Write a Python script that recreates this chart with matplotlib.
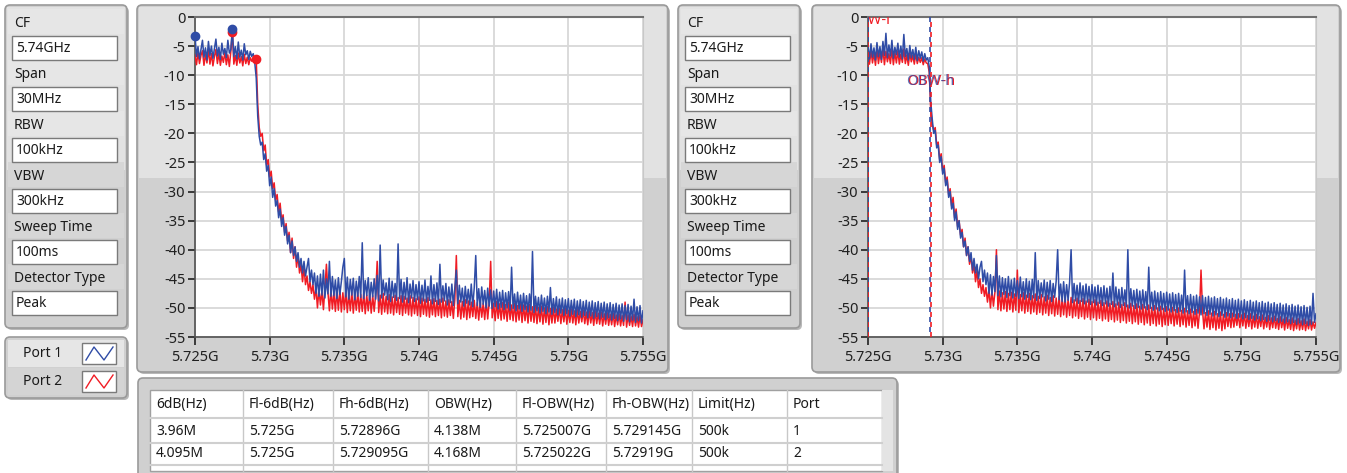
import numpy as np
import matplotlib
matplotlib.use("Agg")
import matplotlib.pyplot as plt
from matplotlib.patches import FancyBboxPatch, Rectangle
from matplotlib.transforms import IdentityTransform

# ---------------- data ----------------
settings_labels = ["CF", "Span", "RBW", "VBW", "Sweep Time", "Detector Type"]
settings_values = ["5.74GHz", "30MHz", "100kHz", "300kHz", "100ms", "Peak"]
legend_names = ["Port 1", "Port 2"]

x_ticks = [5.725, 5.73, 5.735, 5.74, 5.745, 5.75, 5.755]
x_tick_labels = ["5.725G", "5.73G", "5.735G", "5.74G", "5.745G", "5.75G", "5.755G"]
y_ticks = [0, -5, -10, -15, -20, -25, -30, -35, -40, -45, -50, -55]

f_start, f_stop = 5.725, 5.755   # sweep in GHz, 0.1 MHz step (301 points)

c1_port1 = [
    -3.2, -6.8, -5.1, -7.2, -5.6, -4.0, -6.9, -5.3, -7.4, -4.2,
    -6.6, -5.0, -7.1, -5.5, -3.8, -6.7, -5.2, -7.3, -4.5, -6.4,
    -5.4, -7.0, -4.0, -6.2, -5.6, -2.0, -6.8, -5.1, -7.2, -4.3,
    -6.9, -5.7, -7.4, -4.6, -6.5, -5.8, -7.3, -5.9, -6.8, -6.3,
    -7.8, -10.5, -17.0, -20.5, -22.0, -21.5, -24.5, -23.5, -26.5, -25.5,
    -29.0, -27.5, -31.0, -29.5, -32.5, -31.5, -34.5, -33.0, -36.0, -34.5,
    -37.5, -36.0, -39.0, -37.5, -40.5, -38.5, -41.0, -39.5, -42.0, -40.5,
    -43.0, -41.5, -44.0, -42.0, -44.5, -43.0, -41.5, -45.5, -43.5, -46.0,
    -44.0, -47.5, -44.5, -48.0, -44.2, -47.8, -43.5, -48.3, -45.0, -47.6,
    -42.0, -48.0, -44.6, -47.9, -45.2, -48.4, -44.8, -47.7, -45.5, -43.0,
    -41.5, -48.1, -44.7, -48.5, -45.1, -47.8, -44.9, -48.6, -45.4, -48.0,
    -44.6, -48.2, -38.8, -48.4, -45.3, -47.9, -44.8, -48.7, -45.6, -48.1,
    -45.0, -48.5, -44.4, -48.8, -39.2, -48.3, -45.2, -47.8, -45.7, -48.6,
    -44.9, -48.9, -45.4, -48.2, -45.8, -48.7, -39.0, -48.4, -45.1, -49.0,
    -45.6, -48.5, -44.8, -49.1, -45.9, -48.3, -45.3, -48.9, -46.0, -48.6,
    -45.5, -49.2, -46.1, -48.8, -45.2, -49.0, -46.3, -48.7, -44.5, -49.3,
    -46.0, -48.9, -45.7, -49.4, -42.5, -49.0, -46.2, -48.8, -45.8, -49.5,
    -46.4, -49.1, -45.9, -49.6, -46.5, -43.5, -49.3, -46.1, -49.0, -46.6,
    -49.7, -46.3, -49.2, -46.8, -49.5, -45.9, -49.8, -46.5, -41.0, -49.6,
    -46.7, -49.9, -46.4, -49.4, -47.0, -50.0, -46.6, -49.7, -46.9, -50.1,
    -47.1, -49.8, -46.8, -50.2, -47.3, -49.9, -47.0, -50.3, -47.4, -50.0,
    -47.2, -50.4, -43.0, -50.1, -47.6, -50.5, -47.3, -50.2, -47.8, -50.6,
    -47.5, -50.3, -47.9, -50.7, -47.6, -50.4, -40.3, -50.8, -48.0, -50.5,
    -48.2, -50.9, -47.8, -50.6, -48.3, -51.0, -48.0, -50.7, -46.5, -51.1,
    -48.4, -50.8, -48.1, -51.2, -48.5, -50.9, -48.3, -51.3, -48.6, -51.0,
    -48.4, -51.4, -48.7, -51.1, -48.5, -51.5, -48.8, -51.2, -48.6, -51.6,
    -48.9, -51.3, -48.7, -51.7, -49.0, -51.4, -48.8, -51.8, -49.1, -51.5,
    -48.9, -51.9, -49.2, -51.6, -49.0, -52.0, -49.3, -51.7, -49.1, -52.1,
    -49.4, -51.8, -49.2, -52.2, -49.5, -51.9, -49.3, -52.3, -49.6, -52.0,
    -49.4, -52.4, -49.7, -52.1, -48.5, -52.5, -49.8, -52.2, -49.6, -52.6,
    -50.5,
]
c1_port2 = [
    -6.5, -8.2, -6.1, -8.0, -6.6, -5.8, -8.3, -6.4, -7.9, -5.5,
    -8.1, -6.3, -8.4, -6.8, -5.6, -8.0, -6.2, -8.3, -6.7, -7.8,
    -6.0, -8.2, -6.5, -8.5, -5.9, -2.5, -8.1, -6.6, -8.3, -6.2,
    -7.9, -6.8, -8.4, -6.4, -8.0, -6.9, -8.2, -7.0, -7.6, -7.1,
    -7.6, -7.3, -15.0, -19.0, -20.5, -20.0, -23.0, -22.0, -25.5, -24.5,
    -27.5, -26.5, -29.5, -28.5, -31.5, -30.5, -33.5, -32.0, -35.0, -34.0,
    -37.0, -35.5, -38.5, -37.0, -40.5, -38.0, -41.5, -39.5, -43.0, -41.0,
    -44.0, -42.5, -45.5, -43.0, -46.0, -44.5, -47.0, -45.5, -47.5, -46.0,
    -48.5, -46.5, -50.0, -46.8, -49.5, -47.0, -50.3, -46.6, -42.5, -47.2,
    -50.5, -46.9, -50.2, -47.3, -50.6, -47.0, -50.4, -46.8, -50.7, -47.4,
    -50.3, -47.1, -50.8, -47.5, -50.5, -47.2, -50.9, -47.6, -50.4, -47.3,
    -50.7, -47.7, -50.6, -47.4, -51.0, -47.8, -50.5, -47.5, -50.9, -47.9,
    -50.6, -47.6, -42.0, -50.8, -47.8, -51.1, -47.5, -50.7, -48.0, -51.0,
    -47.7, -50.9, -48.1, -51.2, -47.8, -50.8, -48.2, -51.1, -47.9, -51.3,
    -48.0, -50.9, -48.3, -51.2, -47.9, -51.4, -48.2, -51.0, -48.4, -51.3,
    -48.1, -51.5, -48.3, -51.1, -48.5, -51.4, -48.2, -51.6, -48.6, -51.2,
    -48.4, -51.5, -48.7, -51.3, -48.5, -51.7, -48.3, -51.4, -48.8, -51.6,
    -48.6, -51.3, -48.9, -51.8, -48.5, -41.0, -51.5, -48.7, -51.9, -48.9,
    -51.6, -48.6, -52.0, -48.8, -51.7, -49.0, -51.5, -48.7, -51.8, -49.1,
    -52.1, -48.9, -51.6, -49.2, -52.0, -48.8, -51.9, -49.0, -42.0, -51.7,
    -49.2, -52.2, -48.9, -51.8, -49.3, -52.1, -49.1, -51.9, -49.4, -52.3,
    -49.0, -52.0, -49.5, -52.2, -49.2, -52.4, -49.6, -52.1, -49.3, -52.5,
    -49.5, -52.2, -49.7, -52.6, -49.4, -52.3, -49.8, -52.5, -49.6, -52.7,
    -49.9, -52.4, -49.7, -52.8, -50.0, -52.5, -49.8, -52.9, -50.1, -52.6,
    -49.9, -52.6, -50.2, -52.3, -50.0, -52.7, -50.3, -52.4, -50.1, -52.8,
    -50.4, -52.5, -50.2, -52.6, -50.5, -52.9, -50.3, -52.6, -50.6, -52.4,
    -50.4, -52.7, -50.7, -52.9, -50.5, -52.6, -50.8, -53.0, -50.6, -52.7,
    -50.9, -52.8, -50.7, -53.1, -51.0, -52.8, -50.8, -53.0, -51.1, -52.9,
    -50.9, -53.2, -51.2, -52.9, -51.0, -53.1, -51.3, -53.0, -49.0, -53.3,
    -51.2, -53.0, -51.4, -53.2, -51.1, -53.1, -51.5, -53.3, -51.3, -53.2,
    -52.0,
]
c2_port1 = [
    -5.0, -7.2, -4.6, -6.9, -5.3, -7.4, -4.4, -6.8, -5.1, -7.3,
    -4.2, -6.6, -2.8, -7.0, -4.8, -6.7, -4.0, -7.1, -5.2, -6.5,
    -4.5, -6.9, -5.0, -7.2, -3.0, -6.8, -5.4, -7.4, -4.9, -7.0,
    -5.6, -7.3, -5.2, -7.5, -5.8, -7.1, -6.0, -7.6, -6.3, -7.4,
    -7.0, -8.5, -14.5, -17.5, -20.0, -19.5, -22.5, -22.0, -25.0, -24.0,
    -27.0, -26.0, -29.0, -28.0, -31.0, -30.0, -33.0, -32.0, -35.0, -33.5,
    -36.5, -35.0, -38.0, -37.0, -39.5, -38.5, -41.0, -39.5, -42.0, -40.5,
    -43.5, -41.5, -44.0, -42.5, -45.0, -43.0, -42.0, -45.5, -43.5, -46.0,
    -44.0, -47.5, -44.3, -47.8, -44.6, -47.2, -41.0, -47.9, -44.5, -48.1,
    -44.8, -47.7, -45.0, -48.2, -44.6, -47.9, -45.2, -48.3, -44.9, -48.0,
    -45.3, -48.4, -44.7, -48.1, -45.5, -48.5, -45.0, -48.2, -45.4, -48.6,
    -45.1, -48.3, -40.5, -48.7, -45.3, -48.4, -45.7, -48.1, -45.2, -48.8,
    -45.6, -48.5, -45.3, -48.9, -45.8, -48.2, -45.4, -40.0, -48.6, -45.9,
    -48.9, -45.5, -49.0, -46.0, -48.7, -45.6, -40.0, -49.1, -45.8, -48.8,
    -46.1, -49.2, -45.7, -48.9, -46.2, -49.3, -45.9, -49.0, -46.3, -49.4,
    -46.0, -49.1, -46.4, -49.5, -46.1, -49.2, -46.5, -49.6, -46.2, -49.3,
    -46.6, -49.7, -46.3, -49.4, -44.0, -49.8, -46.4, -49.5, -46.8, -49.9,
    -46.5, -49.6, -46.9, -49.8, -40.0, -50.0, -46.7, -49.7, -47.0, -50.1,
    -46.8, -49.9, -47.1, -50.2, -46.9, -50.0, -47.2, -50.3, -43.0, -50.1,
    -47.3, -50.4, -47.1, -50.2, -47.4, -50.5, -47.2, -50.3, -47.5, -50.6,
    -47.3, -50.4, -47.6, -50.7, -47.4, -50.5, -47.7, -50.8, -47.5, -50.6,
    -47.8, -50.9, -43.5, -50.7, -47.9, -51.0, -47.7, -50.8, -48.0, -51.1,
    -47.8, -50.9, -48.1, -51.2, -47.9, -51.0, -48.2, -51.3, -48.0, -51.1,
    -48.3, -51.4, -48.1, -51.2, -48.4, -51.5, -48.2, -51.3, -48.5, -51.6,
    -48.3, -51.4, -48.6, -51.7, -48.4, -51.5, -48.7, -51.8, -48.5, -51.6,
    -48.8, -51.9, -48.6, -51.7, -48.9, -52.0, -48.7, -51.8, -49.0, -52.1,
    -48.8, -51.9, -49.1, -52.2, -48.9, -52.0, -49.2, -52.3, -49.0, -52.1,
    -49.3, -52.4, -49.1, -52.2, -49.4, -52.5, -49.2, -52.3, -49.5, -52.6,
    -49.3, -52.4, -49.6, -52.7, -49.4, -52.5, -49.7, -52.8, -49.5, -52.6,
    -49.8, -52.9, -49.6, -52.7, -49.9, -53.0, -49.7, -52.8, -47.5, -52.5,
    -51.0,
]
c2_port2 = [
    -6.0, -8.1, -5.7, -7.9, -6.2, -8.3, -5.5, -8.0, -6.1, -7.8,
    -5.4, -8.2, -5.9, -7.7, -6.3, -8.0, -5.6, -8.2, -6.0, -7.9,
    -5.8, -8.1, -6.4, -7.8, -5.5, -8.0, -6.5, -8.3, -6.2, -7.7,
    -6.6, -8.1, -6.3, -8.0, -6.9, -7.8, -7.0, -8.2, -7.2, -7.9,
    -8.0, -9.5, -16.0, -18.5, -19.5, -19.0, -22.0, -21.5, -24.5, -23.5,
    -26.5, -25.5, -28.5, -27.5, -30.5, -29.5, -32.5, -31.0, -34.5, -33.0,
    -36.0, -35.0, -37.5, -36.5, -39.5, -38.0, -41.0, -39.5, -42.5, -41.0,
    -44.0, -42.5, -45.5, -43.5, -46.5, -45.0, -47.5, -46.0, -48.0, -46.5,
    -49.0, -46.8, -50.0, -47.0, -49.7, -47.3, -40.0, -50.3, -47.1, -50.5,
    -47.4, -50.2, -47.2, -50.6, -47.5, -50.3, -47.3, -50.7, -47.6, -50.4,
    -43.5, -50.8, -47.7, -50.5, -47.4, -50.9, -47.8, -50.6, -47.5, -51.0,
    -47.9, -50.7, -47.6, -51.1, -48.0, -50.8, -47.7, -51.2, -48.1, -50.9,
    -47.8, -51.3, -48.2, -51.0, -47.9, -51.4, -48.3, -51.1, -48.0, -51.5,
    -48.4, -51.2, -48.1, -51.6, -48.5, -51.3, -48.2, -51.7, -48.6, -51.4,
    -48.3, -51.8, -48.7, -51.5, -48.4, -51.9, -48.8, -51.6, -48.5, -52.0,
    -48.9, -51.7, -48.6, -52.1, -49.0, -51.8, -48.7, -52.2, -49.1, -51.9,
    -48.8, -52.3, -49.2, -52.0, -48.9, -52.4, -49.3, -52.1, -49.0, -52.5,
    -49.4, -52.2, -49.1, -52.6, -49.5, -52.3, -49.2, -52.7, -49.6, -52.4,
    -49.3, -52.8, -49.7, -52.5, -49.4, -52.9, -49.8, -52.6, -49.5, -53.0,
    -49.9, -52.7, -49.6, -53.1, -50.0, -52.8, -49.7, -53.2, -50.1, -52.9,
    -49.8, -53.0, -50.2, -52.7, -49.9, -53.1, -50.3, -52.8, -50.0, -53.2,
    -50.4, -52.9, -50.1, -53.3, -50.5, -53.0, -50.2, -53.4, -50.6, -53.1,
    -50.3, -53.5, -50.7, -43.5, -50.4, -53.6, -50.8, -53.3, -50.5, -53.7,
    -50.9, -53.4, -50.6, -53.8, -51.0, -53.5, -50.7, -53.9, -51.1, -53.6,
    -50.8, -53.2, -51.0, -53.4, -50.9, -53.3, -51.1, -53.0, -51.0, -53.4,
    -51.2, -53.1, -50.9, -53.5, -51.3, -53.2, -51.0, -53.6, -51.4, -53.3,
    -51.1, -53.5, -51.5, -53.2, -51.2, -53.6, -51.6, -53.3, -51.3, -53.7,
    -51.7, -53.4, -51.4, -53.5, -51.8, -53.7, -51.5, -53.4, -51.9, -53.8,
    -51.6, -53.5, -52.0, -53.7, -51.7, -53.9, -52.1, -53.6, -51.8, -53.8,
    -52.2, -53.7, -51.9, -53.9, -52.3, -53.6, -52.0, -53.8, -52.4, -53.5,
    -52.5,
]
# peak markers on chart 1 (freq GHz, dB)
c1_marker_p1 = ([5.725, 5.7275], [-3.2, -2.0])
c1_marker_p2 = ([5.7275, 5.7291], [-2.5, -7.3])

table_headers = ["6dB(Hz)", "Fl-6dB(Hz)", "Fh-6dB(Hz)", "OBW(Hz)", "Fl-OBW(Hz)",
                 "Fh-OBW(Hz)", "Limit(Hz)", "Port"]
table_rows = [
    ["3.96M", "5.725G", "5.72896G", "4.138M", "5.725007G", "5.729145G", "500k", "1"],
    ["4.095M", "5.725G", "5.729095G", "4.168M", "5.725022G", "5.72919G", "500k", "2"],
]
obw_low = [5.725007, 5.725022]
obw_high = [5.729145, 5.72919]

# ---------------- styling ----------------
W, H = 1347, 473
BLUE = "#2f4ca6"
RED = "#f01c24"
FONT = "Noto Sans"
TXT = "#1a1a1a"
FS = 10
TRACE_LW = 1.1
plt.rcParams["font.family"] = [FONT, "DejaVu Sans"]

fig = plt.figure(figsize=(W / 100, H / 100), dpi=100)
fig.patch.set_facecolor("white")
ID = IdentityTransform()


def box(x0, y0, x1, y1, fc, ec="none", lw=1.0, r=0.0, z=-5):
    if r > 0:
        p = FancyBboxPatch((x0, H - y1), x1 - x0, y1 - y0,
                           boxstyle=f"round,pad=0,rounding_size={r}",
                           fc=fc, ec=ec, lw=lw, transform=ID, zorder=z)
    else:
        p = Rectangle((x0, H - y1), x1 - x0, y1 - y0, fc=fc, ec=ec, lw=lw,
                      transform=ID, zorder=z)
    fig.add_artist(p)
    return p


def line(xs, ys, color, lw=1.0, z=-3, **kw):
    fig.add_artist(plt.Line2D(xs, [H - y for y in ys], color=color, lw=lw,
                              transform=ID, zorder=z, **kw))


def text(x, y, s, size=FS, color=TXT, ha="left", va="center", z=5, **kw):
    fig.text(x, H - y, s, fontsize=size, color=color, ha=ha, va=va,
             transform=ID, zorder=z, **kw)


def frame(x0, y0, x1, y1, split=None):
    box(x0 + 2, y0 + 2, x1 + 2, y1 + 2, "#b8b8b8", r=5, z=-10)
    box(x0, y0, x1, y1, "#d0d0d0", ec="#9a9a9a", lw=1.2, r=5, z=-9)
    if split is not None:
        box(x0 + 2, y0 + 2, x1 - 2, split, "#e2e2e2", z=-8)


def settings_panel(ox):
    frame(ox + 5, 5, ox + 127, 328, split=170)
    for k, (lab, val) in enumerate(zip(settings_labels, settings_values)):
        yc = 23 + 51 * k
        band_c = "#e6e6e6" if k < 3 else "#d6d6d6"
        box(ox + 8, yc - 14, ox + 124, yc + 11, band_c, z=-7)
        text(ox + 14, yc, lab)
        by0 = yc + 13
        box(ox + 12, by0, ox + 117, by0 + 24, "white", ec="#7a7a7a", lw=1.0, z=-6)
        text(ox + 16, by0 + 12, val)


settings_panel(0)
settings_panel(673)

# legend panel
frame(5, 337, 127, 398)
for k, (name, col) in enumerate(zip(legend_names, [BLUE, RED])):
    y0 = 340 + 28 * k
    box(8, y0, 124, y0 + 27, "#e6e6e6" if k == 0 else "#d4d4d4", z=-7)
    text(43, y0 + 13.5, name, ha="center")
    box(82, y0 + 3, 116, y0 + 24, "white", ec="#7a7a7a", lw=1.0, z=-6)
    line([86, 94, 104, 113], [y0 + 20, y0 + 7, y0 + 20, y0 + 7], col, lw=1.0, z=-5)


def chart(ax_left, fx0, fx1, p1, p2):
    frame(fx0, 5, fx1, 372, split=178)
    ax = fig.add_axes([ax_left / W, 1 - 337 / H, 448 / W, 320 / H])
    ax.set_zorder(1)
    ax.set_facecolor("white")
    ax.plot(np.linspace(f_start, f_stop, len(p2)), p2, color=RED, lw=TRACE_LW, zorder=3)
    ax.plot(np.linspace(f_start, f_stop, len(p1)), p1, color=BLUE, lw=TRACE_LW, zorder=4)
    ax.set_xlim(f_start, f_stop)
    ax.set_ylim(-55, 0)
    ax.set_xticks(x_ticks)
    ax.set_xticklabels(x_tick_labels)
    ax.set_yticks(y_ticks)
    ax.set_yticklabels([str(v) for v in y_ticks])
    ax.grid(True, color="#d8d8d8", lw=1.3)
    ax.set_axisbelow(True)
    ax.tick_params(axis="both", labelsize=10.5, colors="#202020", length=5, width=1.2)
    ax.tick_params(axis="x", pad=3.5, length=6)
    ax.tick_params(axis="y", pad=2)
    for sp in ["left", "bottom"]:
        ax.spines[sp].set_color("#505050")
        ax.spines[sp].set_linewidth(1.2)
    ax.spines["top"].set_color("#707070")
    ax.spines["top"].set_linewidth(1.5)
    ax.spines["right"].set_color("#c8c8c8")
    return ax


ax1 = chart(195, 137, 668, c1_port1, c1_port2)
ax1.plot(c1_marker_p2[0], c1_marker_p2[1], "o", color=RED, ms=6, zorder=5, clip_on=False)
ax1.plot(c1_marker_p1[0], c1_marker_p1[1], "o", color=BLUE, ms=6, zorder=6, clip_on=False)

ax2 = chart(868, 812, 1340, c2_port1, c2_port2)
for xl, xh, col, off in zip(obw_low, obw_high, [BLUE, RED], [3, 0]):
    ax2.axvline(xl, color=col, lw=1.2, ls=(off, (3, 3)), zorder=7)
    ax2.axvline(xh, color=col, lw=1.2, ls=(off, (3, 3)), zorder=7)
ax2.text(obw_low[1], -0.6, "OBW-l", color=RED, fontsize=10.5, ha="center", va="center",
         clip_on=True, zorder=8)
ax2.text(obw_high[1] + 0.00005, -11.0, "OBW-h", color=RED, fontsize=10.5, ha="center",
         va="center", zorder=8)
ax2.text(obw_high[0], -11.1, "OBW-h", color=BLUE, fontsize=10.5, ha="center",
         va="center", zorder=9, alpha=0.75)

# table
box(140, 380, 899, 482, "#b8b8b8", r=5, z=-10)
box(138, 378, 897, 480, "#d0d0d0", ec="#9a9a9a", lw=1.2, r=5, z=-9)
box(150, 390, 882, 471, "white", ec="#a0a0a0", lw=1.0, z=-7)
box(882, 390, 893, 471, "#e4e4e4", z=-7)
col_x = [150, 243, 333, 428, 516, 606, 692, 787, 882]
for cx in col_x[1:-1]:
    line([cx, cx], [390, 471], "#c8c8c8", lw=1.0, z=-6)
for ry in [418, 443, 465]:
    line([150, 882], [ry, ry], "#cfcfcf", lw=1.5, z=-6)
for j, h in enumerate(table_headers):
    text(col_x[j] + 6, 404, h)
for r, row in enumerate(table_rows):
    for j, v in enumerate(row):
        text(col_x[j] + 6, 431 + 22 * r, v)

fig.savefig("out.png", dpi=100, facecolor="white")
